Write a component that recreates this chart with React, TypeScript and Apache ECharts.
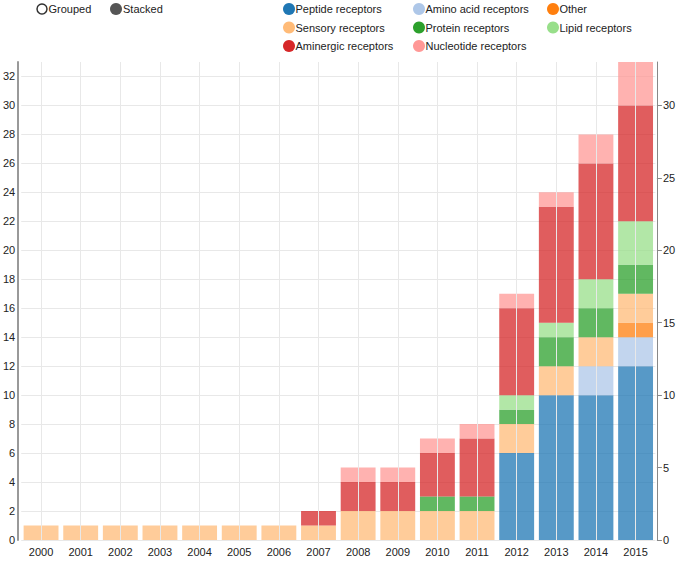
import React, { useEffect, useRef } from "react";
import * as echarts from "echarts";

const years = ["2000","2001","2002","2003","2004","2005","2006","2007","2008","2009","2010","2011","2012","2013","2014","2015"];
const peptide =    [0,0,0,0,0,0,0,0,0,0,0,0,6,10,10,12];
const aminoAcid =  [0,0,0,0,0,0,0,0,0,0,0,0,0,0,2,2];
const other =      [0,0,0,0,0,0,0,0,0,0,0,0,0,0,0,1];
const sensory =    [1,1,1,1,1,1,1,1,2,2,2,2,2,2,2,2];
const protein =    [0,0,0,0,0,0,0,0,0,0,1,1,1,2,2,2];
const lipid =      [0,0,0,0,0,0,0,0,0,0,0,0,1,1,2,3];
const aminergic =  [0,0,0,0,0,0,0,1,2,2,3,4,6,8,8,8];
const nucleotide = [0,0,0,0,0,0,0,0,1,1,1,1,1,1,2,3];

const seriesDefs = [
  { name: "Peptide receptors", data: peptide, color: "#1f77b4" },
  { name: "Amino acid receptors", data: aminoAcid, color: "#aec7e8" },
  { name: "Other", data: other, color: "#ff7f0e" },
  { name: "Sensory receptors", data: sensory, color: "#ffbb78" },
  { name: "Protein receptors", data: protein, color: "#2ca02c" },
  { name: "Lipid receptors", data: lipid, color: "#98df8a" },
  { name: "Aminergic receptors", data: aminergic, color: "#d62728" },
  { name: "Nucleotide receptors", data: nucleotide, color: "#ff9896" },
];

const FONT = "'Liberation Sans', Arial, Helvetica, sans-serif";
const TXT = "#222";

export default function App() {
  const ref = useRef<HTMLDivElement>(null);
  useEffect(() => {
    if (!ref.current) return;
    const chart = echarts.init(ref.current, undefined, { renderer: "svg" });

    const legendCols = [289, 419, 553];
    const legendRows = [9, 27.5, 46];
    const legendGraphics: any[] = [];
    seriesDefs.forEach((s, i) => {
      const cx = legendCols[i % 3];
      const cy = legendRows[Math.floor(i / 3)];
      legendGraphics.push({
        type: "circle",
        shape: { cx, cy, r: 6 },
        style: { fill: s.color },
        silent: true,
      });
      legendGraphics.push({
        type: "text",
        x: cx + 6.5,
        y: cy,
        style: { text: s.name, fill: TXT, font: `11px ${FONT}`, textVerticalAlign: "middle", textAlign: "left" },
        silent: true,
      });
    });

    const option: any = {
      animation: false,
      textStyle: { fontFamily: FONT },
      grid: { left: 20, right: 24.6, top: 62, bottom: 21, containLabel: false },
      xAxis: {
        type: "category",
        data: years,
        axisLine: { show: false },
        axisTick: { show: false },
        axisLabel: { color: TXT, fontSize: 11, margin: 6, fontFamily: FONT },
        splitLine: { show: false },
      },
      yAxis: [
        {
          type: "value",
          position: "left",
          min: 0,
          max: 33,
          interval: 2,
          offset: 3,
          axisLine: { show: true, lineStyle: { color: "#999", width: 2 } },
          axisTick: { show: false },
          axisLabel: { color: TXT, fontSize: 11, margin: 3, showMaxLabel: false, fontFamily: FONT },
          splitLine: { show: true, showMaxLine: false, lineStyle: { color: "#e8e8e8", width: 1 } },
        },
        {
          type: "value",
          position: "right",
          min: 0,
          max: 33,
          interval: 5,
          offset: 1.5,
          axisLine: { show: true, lineStyle: { color: "#888", width: 1 } },
          axisTick: { show: true, length: 5, lineStyle: { color: "#888" } },
          axisLabel: { color: TXT, fontSize: 11, margin: 6, showMaxLabel: false, fontFamily: FONT },
          splitLine: { show: false },
        },
      ],
      graphic: [
        { type: "circle", shape: { cx: 42, cy: 9, r: 5 }, style: { fill: "#fff", stroke: "#333", lineWidth: 1.5 }, silent: true },
        { type: "text", x: 48.5, y: 9, style: { text: "Grouped", fill: TXT, font: `11px ${FONT}`, textVerticalAlign: "middle" }, silent: true },
        { type: "circle", shape: { cx: 116, cy: 9, r: 6 }, style: { fill: "#555" }, silent: true },
        { type: "text", x: 123, y: 9, style: { text: "Stacked", fill: TXT, font: `11px ${FONT}`, textVerticalAlign: "middle" }, silent: true },
        ...legendGraphics,
      ],
      series: [
        {
          type: "line",
          name: "__grid",
          data: [],
          z: 1,
          silent: true,
          markLine: {
            silent: true,
            symbol: "none",
            label: { show: false },
            lineStyle: { color: "#e8e8e8", width: 1, type: "solid" },
            data: years.map((y) => ({ xAxis: y })),
          },
        },
        ...seriesDefs.map((s) => ({
          type: "bar",
          name: s.name,
          stack: "total",
          data: s.data,
          barCategoryGap: "12%",
          z: 2,
          itemStyle: { color: s.color, opacity: 0.75 },
          emphasis: { disabled: true },
        })),
      ],
    };
    chart.setOption(option);
    return () => chart.dispose();
  }, []);
  return <div ref={ref} style={{ position: "absolute", left: 0, top: 0, width: 680, height: 561 }} />;
}
